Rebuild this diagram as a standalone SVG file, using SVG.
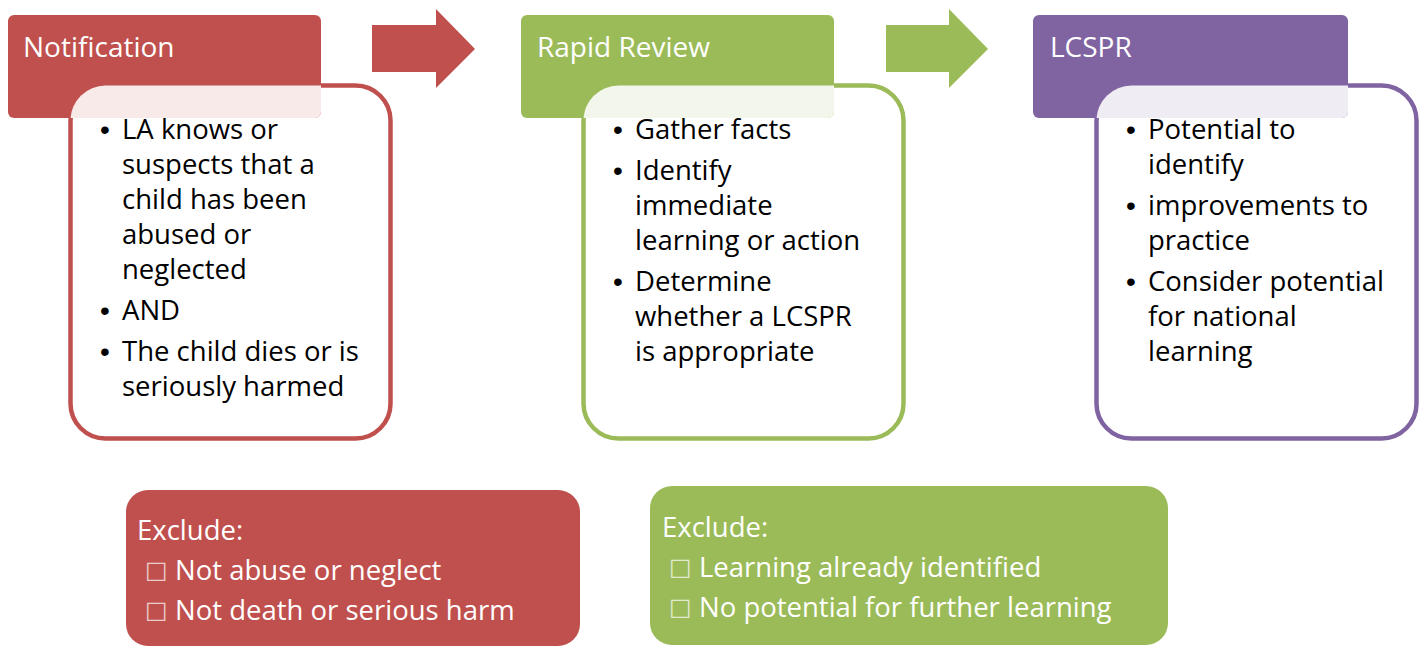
<svg xmlns="http://www.w3.org/2000/svg" width="1424" height="646" viewBox="0 0 1424 646">
<style>
  .t { font-family: "Open Sans", "Liberation Sans", sans-serif; font-size: 27.5px; }
  .h { font-size: 28px; }
  .hd { fill: #ffffff; }
  .bd { fill: #000000; }
  .b { font-family: "Liberation Sans", Arial, sans-serif; font-size: 28px; }
  .bx { fill: #ffffff; opacity: 0.7; font-family: "DejaVu Sans", sans-serif; font-size: 24px; }
  .red { fill: #C0504D; }
  .grn { fill: #9BBB59; }
  .pur { fill: #8064A2; }
  .veil { fill: #ffffff; opacity: 0.88; }
</style>
<defs>
  <clipPath id="cpN"><rect x="8" y="15" width="313" height="103" rx="6"/></clipPath>
  <clipPath id="cpR"><rect x="521" y="15" width="313" height="103" rx="6"/></clipPath>
  <clipPath id="cpL"><rect x="1033" y="15" width="315" height="103" rx="6"/></clipPath>
</defs>

<g id="connectors">
  <polygon class="red" points="372,25 436,25 436,9 475,49 436,88 436,72 372,72"/>
  <polygon class="grn" points="886,25 949,25 949,9 988,49 949,88 949,72 886,72"/>
</g>

<g id="notification">
  <rect x="70.5" y="85.5" width="320" height="353" rx="35" fill="#ffffff" stroke="#C0504D" stroke-width="4.5"/>
  <rect class="red" x="8" y="15" width="313" height="103" rx="6"/>
  <rect class="veil" x="70.5" y="85.5" width="320" height="353" rx="35" clip-path="url(#cpN)"/>
  <text class="t h hd" x="23" y="57">Notification</text>
  <g class="t bd">
    <text class="b" x="100" y="139">•</text>
    <text x="122" y="139">LA knows or</text>
    <text x="122" y="174">suspects that a</text>
    <text x="122" y="209">child has been</text>
    <text x="122" y="244">abused or</text>
    <text x="122" y="279">neglected</text>
    <text class="b" x="100" y="320">•</text>
    <text x="122" y="320">AND</text>
    <text class="b" x="100" y="361">•</text>
    <text x="122" y="361">The child dies or is</text>
    <text x="122" y="396">seriously harmed</text>
  </g>
</g>

<g id="rapid-review">
  <rect x="583.5" y="85.5" width="320" height="353" rx="35" fill="#ffffff" stroke="#9BBB59" stroke-width="4.5"/>
  <rect class="grn" x="521" y="15" width="313" height="103" rx="6"/>
  <rect class="veil" x="583.5" y="85.5" width="320" height="353" rx="35" clip-path="url(#cpR)"/>
  <text class="t h hd" x="537" y="57">Rapid Review</text>
  <g class="t bd">
    <text class="b" x="613" y="139">•</text>
    <text x="635" y="139">Gather facts</text>
    <text class="b" x="613" y="180">•</text>
    <text x="635" y="180">Identify</text>
    <text x="635" y="215">immediate</text>
    <text x="635" y="250">learning or action</text>
    <text class="b" x="613" y="291">•</text>
    <text x="635" y="291">Determine</text>
    <text x="635" y="326">whether a LCSPR</text>
    <text x="635" y="361">is appropriate</text>
  </g>
</g>

<g id="lcspr">
  <rect x="1096.5" y="85.5" width="320" height="353" rx="35" fill="#ffffff" stroke="#8064A2" stroke-width="4.5"/>
  <rect class="pur" x="1033" y="15" width="315" height="103" rx="6"/>
  <rect class="veil" x="1096.5" y="85.5" width="320" height="353" rx="35" clip-path="url(#cpL)"/>
  <text class="t h hd" x="1050" y="57">LCSPR</text>
  <g class="t bd">
    <text class="b" x="1126" y="139">•</text>
    <text x="1148" y="139">Potential to</text>
    <text x="1148" y="174">identify</text>
    <text class="b" x="1126" y="215">•</text>
    <text x="1148" y="215">improvements to</text>
    <text x="1148" y="250">practice</text>
    <text class="b" x="1126" y="291">•</text>
    <text x="1148" y="291">Consider potential</text>
    <text x="1148" y="326">for national</text>
    <text x="1148" y="361">learning</text>
  </g>
</g>

<g id="exclude-notification">
  <rect class="red" x="126" y="490" width="454" height="156" rx="22"/>
  <g class="t hd">
    <text x="137" y="540">Exclude:</text>
    <text class="bx" x="145" y="578">□</text>
    <text x="175" y="580">Not abuse or neglect</text>
    <text class="bx" x="145" y="618">□</text>
    <text x="175" y="620">Not death or serious harm</text>
  </g>
</g>

<g id="exclude-rapid-review">
  <rect class="grn" x="650" y="486" width="518" height="159" rx="22"/>
  <g class="t hd">
    <text x="662" y="537">Exclude:</text>
    <text class="bx" x="669" y="575">□</text>
    <text x="699" y="577">Learning already identified</text>
    <text class="bx" x="669" y="615">□</text>
    <text x="699" y="617">No potential for further learning</text>
  </g>
</g>
</svg>
